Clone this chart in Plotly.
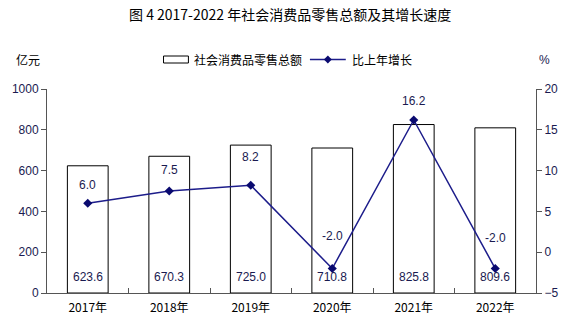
import plotly.graph_objects as go

years = ["2017年", "2018年", "2019年", "2020年", "2021年", "2022年"]
retail_sales = [623.6, 670.3, 725.0, 710.8, 825.8, 809.6]
growth_rate = [6.0, 7.5, 8.2, -2.0, 16.2, -2.0]

# vertical offsets (px) of the growth labels above their markers
growth_label_shift = [18, 21, 28, 33, 19, 31]

navy = "#1c1c8a"
marker_navy = "#0a0a70"
label_color = "#1a1a50"
num_font = dict(family="Arial, Liberation Sans, sans-serif", size=12, color=label_color)
cjk_font = "Noto Sans CJK SC"

# plot-area geometry in pixels, used to place the header items
W, H = 582, 331
ML, MR, MT, MB = 45, 46, 89, 38
PW, PH = W - ML - MR, H - MT - MB


def px(x):
    return (x - ML) / PW


def py(y):
    return (H - MB - y) / PH


fig = go.Figure()

fig.add_trace(go.Bar(
    x=years, y=retail_sales, name="社会消费品零售总额",
    width=0.5, showlegend=False,
    marker=dict(color="white", line=dict(color="black", width=1)),
    yaxis="y",
))

fig.add_trace(go.Scatter(
    x=years, y=growth_rate, name="比上年增长",
    mode="lines+markers", showlegend=False,
    line=dict(color=navy, width=1.5),
    marker=dict(symbol="diamond", size=7, color=marker_navy),
    yaxis="y2",
))

annotations = []
for yr, v in zip(years, retail_sales):
    annotations.append(dict(
        x=yr, y=0, xref="x", yref="y", text=f"{v:.1f}",
        showarrow=False, yanchor="bottom", yshift=7, font=num_font,
    ))
for yr, g, s in zip(years, growth_rate, growth_label_shift):
    annotations.append(dict(
        x=yr, y=g, xref="x", yref="y2", text=f"{g:.1f}",
        showarrow=False, yanchor="middle", yshift=s, font=num_font,
    ))

leg_y = py(59.5)
header_font = dict(family=cjk_font, size=12, color="black")
annotations += [
    dict(text="图 4 2017-2022 年社会消费品零售总额及其增长速度", x=px(289), y=py(14),
         xref="paper", yref="paper", xanchor="center", yanchor="middle", showarrow=False,
         font=dict(family=cjk_font, size=14, color="black")),
    dict(text="亿元", x=px(26), y=leg_y, xref="paper", yref="paper", showarrow=False,
         xanchor="center", yanchor="middle", font=dict(family=cjk_font, size=12, color="black")),
    dict(text="%", x=px(545), y=leg_y, xref="paper", yref="paper", showarrow=False,
         xanchor="center", yanchor="middle",
         font=dict(family="Arial", size=12, color=label_color)),
    # legend labels
    dict(text="社会消费品零售总额", x=px(191), y=leg_y, xref="paper", yref="paper",
         showarrow=False, xanchor="left", yanchor="middle", font=header_font),
    dict(text="比上年增长", x=px(413), y=leg_y, xref="paper", yref="paper",
         showarrow=False, xanchor="right", yanchor="middle", font=header_font),
]

# legend symbols
dx, dy = 4 / PW, 4 / PH
cx = px(327)
shapes = [
    dict(type="rect", xref="paper", yref="paper", x0=px(162), x1=px(187),
         y0=py(63), y1=py(56), line=dict(color="black", width=1), fillcolor="white"),
    dict(type="line", xref="paper", yref="paper", x0=px(309), x1=px(345),
         y0=leg_y, y1=leg_y, line=dict(color=navy, width=1.5)),
    dict(type="path", xref="paper", yref="paper",
         path=f"M {cx - dx} {leg_y} L {cx} {leg_y + dy} L {cx + dx} {leg_y} L {cx} {leg_y - dy} Z",
         fillcolor=marker_navy, line=dict(color=marker_navy, width=0)),
]

fig.update_layout(
    width=W, height=H,
    margin=dict(l=ML, r=MR, t=MT, b=MB),
    paper_bgcolor="white", plot_bgcolor="white",
    showlegend=False,
    xaxis=dict(
        type="category", showline=True, linecolor="#555", linewidth=1,
        ticks="inside", ticklen=5, tickcolor="#555", tickson="boundaries",
        tickfont=dict(family=cjk_font, size=12, color="black"), ticklabelstandoff=4,
        showgrid=False, zeroline=False,
    ),
    yaxis=dict(
        range=[0, 1000], dtick=200, showline=True, linecolor="#555", linewidth=1,
        ticks="outside", ticklen=5, tickcolor="#555", tickfont=num_font,
        showgrid=False, zeroline=False,
    ),
    yaxis2=dict(
        range=[-5, 20], dtick=5, overlaying="y", side="right",
        showline=True, linecolor="#555", linewidth=1,
        ticks="outside", ticklen=5, tickcolor="#555", tickfont=num_font,
        showgrid=False, zeroline=False,
    ),
    annotations=annotations,
    shapes=shapes,
)

fig.write_html("out.html")
